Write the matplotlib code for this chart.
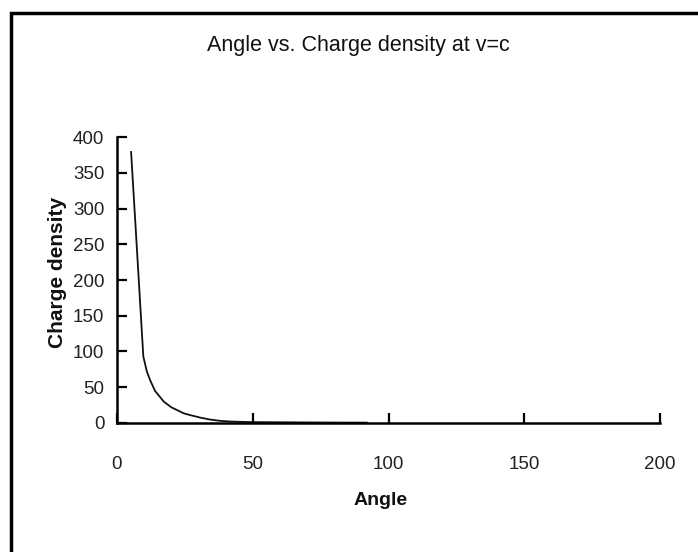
import matplotlib.pyplot as plt
from matplotlib.patches import Rectangle

# Data
angle = [5.2, 7.0, 9.7, 11.0, 12.2, 14.0, 17.2, 20.0, 24.6, 27.0, 30.7, 34.0, 38.0, 42.0, 50.0, 60.0, 80.0, 92.0]
density = [379, 265, 93, 72, 60, 45, 30, 22, 13.5, 11, 7.5, 5, 3, 2, 1.2, 1.0, 0.6, 0.5]

x_ticks = [0, 50, 100, 150, 200]
y_ticks = [0, 50, 100, 150, 200, 250, 300, 350, 400]

narrow = ['Liberation Sans Narrow', 'Liberation Sans', 'DejaVu Sans']

fig = plt.figure(figsize=(6.98, 5.52), dpi=100)
ax = fig.add_axes([0.1676, 0.2337, 0.7780, 0.5181])

ax.plot(angle, density, color='#111111', linewidth=1.3)

ax.set_xlim(0, 200)
ax.set_ylim(0, 400)
ax.set_xticks(x_ticks)
ax.set_yticks(y_ticks)
ax.set_xticklabels([str(t) for t in x_ticks], family=narrow, fontsize=13.5, color='#222222')
ax.set_yticklabels([str(t) for t in y_ticks], family=narrow, fontsize=13.5, color='#222222')
ax.tick_params(direction='in', length=7, width=1.6)
ax.tick_params(axis='y', pad=9)
ax.tick_params(axis='x', pad=24)

for side in ['top', 'right']:
    ax.spines[side].set_visible(False)
for side in ['left', 'bottom']:
    ax.spines[side].set_linewidth(1.8)

fig.text(0.514, 0.917, 'Angle vs. Charge density at v=c', ha='center', va='center',
         family=narrow, fontsize=15.5, color='#111111')
fig.text(0.545, 0.094, 'Angle', ha='center', va='center',
         family=narrow, fontsize=14, fontweight='bold', color='#111111')
fig.text(0.082, 0.507, 'Charge density', ha='center', va='center', rotation=90,
         family=['Liberation Sans', 'DejaVu Sans'], fontsize=15, fontweight='bold', color='#111111')

# outer frame of the original chart area
fig.patches.append(Rectangle((11 / 698, -0.05), 1.1, 0.05 + (552 - 12.5) / 552,
                             transform=fig.transFigure, fill=False,
                             edgecolor='black', linewidth=2.5))

fig.savefig('out.png', dpi=100)
